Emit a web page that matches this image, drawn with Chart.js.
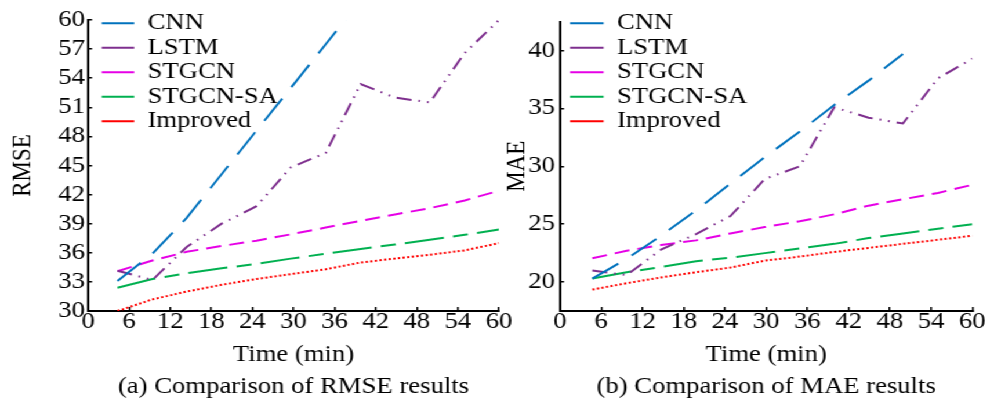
<!DOCTYPE html>
<html><head><meta charset="utf-8">
<script src="https://cdn.jsdelivr.net/npm/chart.js@4"></script>
<style>
html,body{margin:0;padding:0;background:#fff;}
#wrap{position:absolute;left:0;top:0;width:857px;height:405px;transform:scaleX(1.1599);transform-origin:0 0;}
#c1{position:absolute;left:0;top:0;}
#c2{position:absolute;left:420px;top:0;}
</style></head><body>
<div id="wrap"><canvas id="c1" width="450" height="405"></canvas><canvas id="c2" width="437" height="405"></canvas></div>
<script>
// ---- data ----
const seriesNames = ['CNN', 'LSTM', 'STGCN', 'STGCN-SA', 'Improved'];
const timeA = [4.3, 9.4, 14.4, 19.5, 24.6, 29.6, 34.7, 39.8, 44.8, 49.9, 55.0, 60];
const timeB = [4.7, 9.7, 14.7, 19.8, 24.8, 29.8, 34.9, 39.9, 44.9, 49.9, 55.0, 60];
const xTicks = [0, 6, 12, 18, 24, 30, 36, 42, 48, 54, 60];
const rmseTicks = [30, 33, 36, 39, 42, 45, 48, 51, 54, 57, 60];
const maeTicks = [20, 25, 30, 35, 40];

const rmseCNN = [33.1, 35.9, 39.6, 44.1, 48.6, 53.0, 57.5, 62.0, 66.4, 70.9];
const rmseLSTM = [34.15, 33.2, 36.6, 39.0, 40.8, 44.8, 46.3, 53.4, 52.0, 51.5, 56.6, 60.0];
const rmseSTGCN = [34.1, 35.2, 36.1, 36.7, 37.25, 37.9, 38.6, 39.3, 39.95, 40.6, 41.4, 42.4];
const rmseSTGCNSA = [32.4, 33.3, 33.9, 34.4, 34.85, 35.4, 35.9, 36.4, 36.85, 37.35, 37.85, 38.4];
const rmseImproved = [30.0, 31.2, 32.0, 32.7, 33.3, 33.8, 34.3, 35.0, 35.4, 35.8, 36.25, 37.0];

const maeCNN = [20.3, 22.0, 24.0, 26.2, 28.5, 30.8, 33.0, 35.3, 37.4, 39.7];
const maeLSTM = [21.0, 20.6, 22.8, 24.15, 25.7, 28.9, 30.0, 35.1, 34.2, 33.7, 37.6, 39.3];
const maeSTGCN = [22.05, 22.7, 23.2, 23.6, 24.2, 24.75, 25.25, 25.85, 26.6, 27.15, 27.7, 28.4];
const maeSTGCNSA = [20.3, 20.85, 21.3, 21.8, 22.1, 22.5, 22.9, 23.3, 23.8, 24.2, 24.6, 25.0];
const maeImproved = [19.35, 19.9, 20.4, 20.85, 21.25, 21.85, 22.2, 22.6, 22.95, 23.3, 23.65, 24.0];

// ---- styles ----
const lineStyles = [
  {color: '#0072BD', dash: [27, 14]},
  {color: '#7E2F8E', dash: [13, 6, 1.5, 6, 1.5, 6]},
  {color: '#E600E6', dash: [13, 7]},
  {color: '#00B050', dash: [34, 8, 13, 8]},
  {color: '#FF0000', dash: [2, 2]}
];

Chart.defaults.font.family = '"Liberation Serif", "Times New Roman", serif';
Chart.defaults.font.size = 23;
Chart.defaults.color = '#000';

const legendPlace = {
  id: 'legendPlace',
  afterLayout(chart, args, opts) {
    const lg = chart.legend;
    if (!lg) return;
    lg.left = opts.x; lg.top = opts.y;
    lg.right = opts.x + lg.width; lg.bottom = opts.y + 400;
  }
};

function pts(xs, ys) { return ys.map((y, i) => ({x: xs[i], y: y})); }

function makeChart(canvas, cfg) {
  const datasets = cfg.series.map((ys, i) => ({
    label: seriesNames[i],
    data: pts(cfg.xs, ys),
    borderColor: lineStyles[i].color,
    backgroundColor: 'rgba(0,0,0,0)',
    borderWidth: 2,
    borderDash: lineStyles[i].dash,
    pointRadius: 0,
    fill: false,
    tension: 0
  }));
  return new Chart(canvas, {
    type: 'line',
    data: {datasets},
    plugins: [legendPlace],
    options: {
      responsive: false,
      animation: false,
      devicePixelRatio: 1,
      events: [],
      layout: {padding: {left: 0, right: cfg.padRight, top: 20, bottom: 4}},
      plugins: {
        legendPlace: {x: cfg.legendX, y: 10.3},
        legend: {
          display: true,
          position: 'chartArea',
          align: 'start',
          labels: {
            usePointStyle: true, pointStyle: 'line', pointStyleWidth: cfg.legendBox,
            padding: 1.5, font: {size: 23}, color: '#000'
          }
        },
        title: {
          display: true, text: cfg.caption, position: 'bottom', fullSize: false,
          padding: 0, font: {size: 23, weight: 'normal'}, color: '#000'
        },
        tooltip: {enabled: false}
      },
      scales: {
        x: {
          type: 'linear', min: 0, max: 60,
          afterBuildTicks: s => { s.ticks = xTicks.map(v => ({value: v})); },
          afterFit: s => { s.height = 62.4; },
          border: {display: true, color: '#000', width: 2},
          grid: {drawOnChartArea: false, color: '#000', lineWidth: 1.5, tickLength: -4},
          ticks: {padding: 1.5, font: {size: 23}, color: '#000', maxRotation: 0, autoSkip: false},
          title: {display: true, text: 'Time (min)', font: {size: 23}, color: '#000', padding: {top: 0, bottom: 4.3}}
        },
        y: {
          type: 'linear', min: cfg.yMin, max: cfg.yMax,
          afterBuildTicks: s => { s.ticks = cfg.yTicks.map(v => ({value: v})); },
          afterFit: s => { s.width = cfg.yWidth; },
          border: {display: true, color: '#000', width: 2},
          grid: {drawOnChartArea: false, color: '#000', lineWidth: 1.5, tickLength: -3.5},
          ticks: {padding: cfg.yPad, font: {size: 23}, color: '#000', autoSkip: false},
          title: {display: true, text: cfg.yTitle, font: {size: 23}, color: '#000', padding: {top: cfg.yTitlePad, bottom: 0}}
        }
      }
    }
  });
}

makeChart(document.getElementById('c1'), {
  xs: timeA,
  series: [rmseCNN, rmseLSTM, rmseSTGCN, rmseSTGCNSA, rmseImproved],
  yMin: 30, yMax: 60, yTicks: rmseTicks, yTitle: 'RMSE',
  caption: '(a) Comparison of RMSE results',
  yWidth: 75.9, padRight: 450 - 430.2, yPad: 6.1, yTitlePad: 6.3,
  legendX: 86.2, legendBox: 28
});
makeChart(document.getElementById('c2'), {
  xs: timeB,
  series: [maeCNN, maeLSTM, maeSTGCN, maeSTGCNSA, maeImproved],
  yMin: 17.5, yMax: 42.5, yTicks: maeTicks, yTitle: 'MAE',
  caption: '(b) Comparison of MAE results',
  yWidth: 62.8, padRight: 437 - 418.3, yPad: 7.8, yTitlePad: 11.7,
  legendX: 69.9, legendBox: 29
});
</script>
</body></html>
